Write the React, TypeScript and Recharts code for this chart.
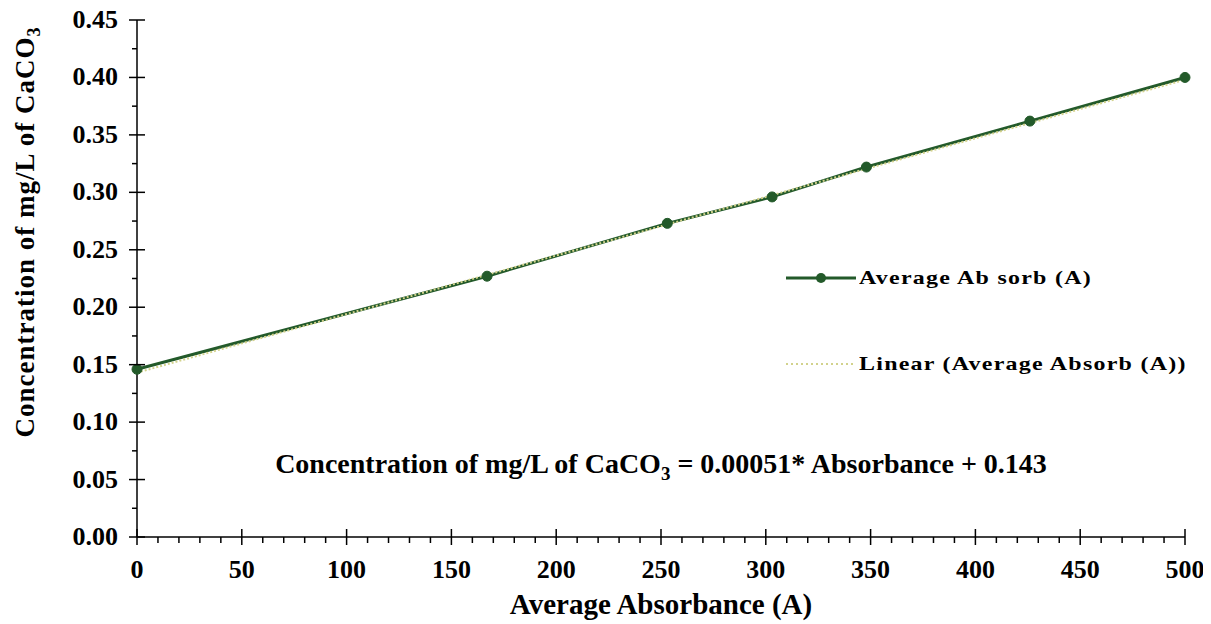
import React from 'react';
import { ComposedChart, Line, XAxis, YAxis } from 'recharts';

// calibration points: average absorbance vs CaCO3 concentration
const absorbance = [0, 167, 253, 303, 348, 426, 500];
const concentration = [0.146, 0.227, 0.273, 0.296, 0.322, 0.362, 0.4];

// fitted trendline, as printed on the chart
const trendSlope = 0.00051;
const trendIntercept = 0.143;
const trendRange = [0, 500];

const xMajorTicks = [0, 50, 100, 150, 200, 250, 300, 350, 400, 450, 500];
const yMajorTicks = [0, 0.05, 0.1, 0.15, 0.2, 0.25, 0.3, 0.35, 0.4, 0.45];

const points = absorbance.map((x, i) => ({ x, y: concentration[i] }));
const trend = trendRange.map((x) => ({ x, trend: trendIntercept + trendSlope * x }));

// minor ticks: 4 between x majors, 1 between y majors
const xTicks: number[] = [];
xMajorTicks.forEach((v, i) => {
  xTicks.push(v);
  if (i < xMajorTicks.length - 1) for (let k = 1; k < 5; k++) xTicks.push(v + k * 10);
});
const yTicks: number[] = [];
yMajorTicks.forEach((v, i) => {
  yTicks.push(v);
  if (i < yMajorTicks.length - 1) yTicks.push((v + yMajorTicks[i + 1]) / 2);
});

const FONT = '"Liberation Serif", "Times New Roman", serif';
const GREEN = '#235a2a';
const TREND = '#d2d28c';

const XTick = (props: any) => {
  const { x, y, index } = props;
  const major = index % 5 === 0;
  return (
    <g>
      <line x1={x} x2={x} y1={major ? y - 8 : y} y2={y + (major ? 8 : 6)} stroke="#000" strokeWidth={1.5} />
      {major && (
        <text x={x} y={y + 41} textAnchor="middle" fontFamily={FONT} fontWeight="bold" fontSize={26} fill="#000">
          {xMajorTicks[index / 5]}
        </text>
      )}
    </g>
  );
};

const YTick = (props: any) => {
  const { x, y, index } = props;
  const major = index % 2 === 0;
  return (
    <g>
      <line x1={major ? x - 8 : x - 5} x2={major ? x + 8 : x} y1={y} y2={y} stroke="#000" strokeWidth={1.5} />
      {major && (
        <text x={x - 19} y={y + 8} textAnchor="end" fontFamily={FONT} fontWeight="bold" fontSize={26} fill="#000">
          {yMajorTicks[index / 2].toFixed(2)}
        </text>
      )}
    </g>
  );
};

const YTitle = () => (
  <text
    x={0}
    y={0}
    transform="translate(34, 232) rotate(-90)"
    textAnchor="middle"
    fontFamily={FONT}
    fontWeight="bold"
    fontSize={27}
    letterSpacing={1}
    fill="#000"
  >
    Concentration of mg/L of CaCO
    <tspan fontSize={18} dy={6}>3</tspan>
  </text>
);

const XTitle = (props: any) => {
  const { viewBox } = props;
  return (
    <text
      x={viewBox.x + viewBox.width / 2}
      y={viewBox.y + 77}
      textAnchor="middle"
      fontFamily={FONT}
      fontWeight="bold"
      fontSize={29}
      fill="#000"
    >
      Average Absorbance (A)
    </text>
  );
};

const stretched: React.CSSProperties = {
  display: 'inline-block',
  transform: 'scaleX(1.26)',
  transformOrigin: 'left center',
  letterSpacing: 1,
};

const LegendBox = () => (
  <div
    style={{
      position: 'absolute',
      left: 784,
      top: 263,
      fontFamily: FONT,
      fontWeight: 'bold',
      fontSize: 19,
      color: '#000',
      whiteSpace: 'nowrap',
    }}
  >
    <div style={{ display: 'flex', alignItems: 'center', height: 30 }}>
      <svg width={75} height={20}>
        <line x1={2} x2={72} y1={10} y2={10} stroke={GREEN} strokeWidth={3} />
        <circle cx={37} cy={10} r={5} fill={GREEN} />
      </svg>
      <span style={stretched}>Average Ab sorb (A)</span>
    </div>
    <div style={{ display: 'flex', alignItems: 'center', height: 30, marginTop: 56 }}>
      <svg width={75} height={20}>
        <line x1={2} x2={72} y1={10} y2={10} stroke={TREND} strokeWidth={2} strokeDasharray="2 3" />
      </svg>
      <span style={stretched}>Linear (Average Absorb (A))</span>
    </div>
  </div>
);

export default function App() {
  return (
    <div style={{ position: 'relative', width: 1211, height: 624, margin: '-8px 0 0 -8px', background: '#fff' }}>
      <ComposedChart width={1211} height={624} margin={{ top: 20, right: 26, bottom: 0, left: 0 }}>
        <XAxis
          type="number"
          dataKey="x"
          domain={[0, 500]}
          ticks={xTicks}
          interval={0}
          tickSize={0}
          tickMargin={0}
          tickLine={false}
          tick={<XTick />}
          axisLine={{ stroke: '#000', strokeWidth: 1.5 }}
          height={87}
          label={{ content: <XTitle /> }}
        />
        <YAxis
          type="number"
          domain={[0, 0.45]}
          ticks={yTicks}
          interval={0}
          tickSize={0}
          tickMargin={0}
          tickLine={false}
          tick={<YTick />}
          axisLine={{ stroke: '#000', strokeWidth: 1.5 }}
          width={137}
          label={{ content: <YTitle /> }}
        />
        <Line
          data={points}
          dataKey="y"
          type="linear"
          stroke={GREEN}
          strokeWidth={3}
          dot={{ r: 5, fill: GREEN, stroke: GREEN, strokeWidth: 1 }}
          activeDot={false}
          isAnimationActive={false}
        />
        <Line
          data={trend}
          dataKey="trend"
          type="linear"
          stroke={TREND}
          strokeWidth={2}
          strokeDasharray="2 2"
          dot={false}
          activeDot={false}
          isAnimationActive={false}
        />
      </ComposedChart>
      <LegendBox />
      <div
        style={{
          position: 'absolute',
          left: 0,
          width: 1322,
          top: 448,
          textAlign: 'center',
          fontFamily: FONT,
          fontWeight: 'bold',
          fontSize: 28,
          color: '#000',
          whiteSpace: 'nowrap',
        }}
      >
        Concentration of mg/L of CaCO<sub style={{ fontSize: 19 }}>3</sub> = 0.00051* Absorbance + 0.143
      </div>
    </div>
  );
}
